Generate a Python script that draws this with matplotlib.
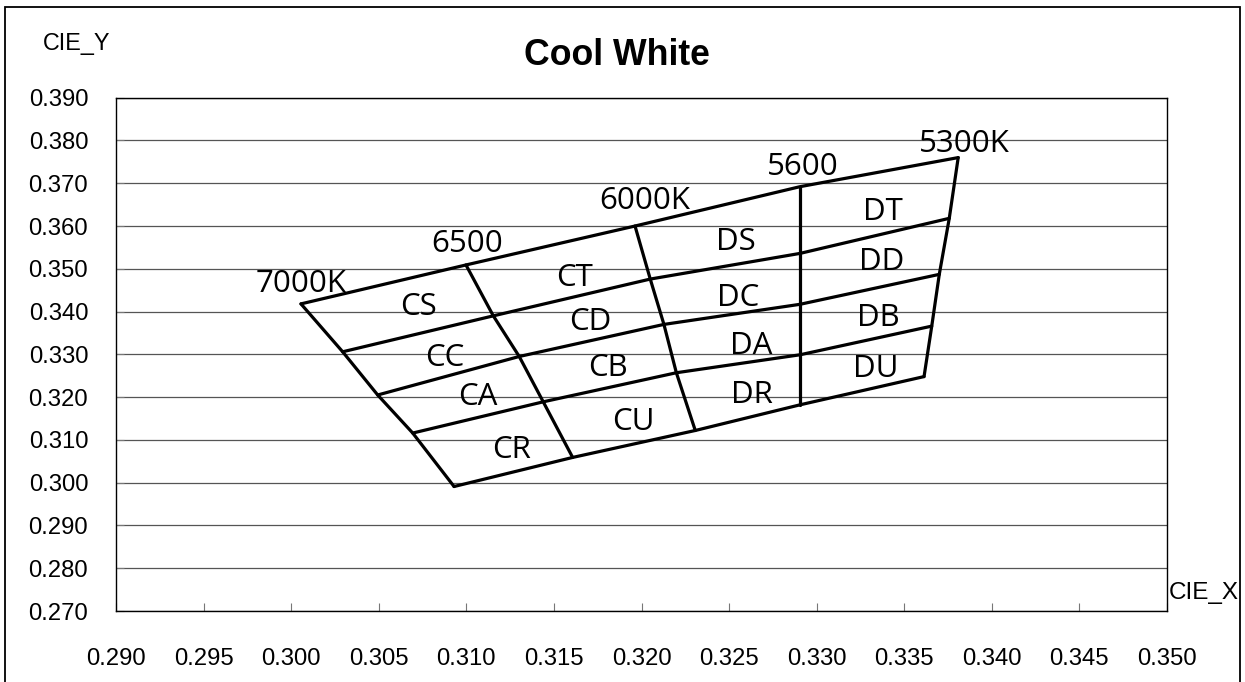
import numpy as np
import matplotlib.pyplot as plt
from matplotlib.patches import Rectangle

# corner points of the bins, one list per CCT line, from the top row down
cct_names = ['7000K', '6500', '6000K', '5600', '5300K']
cct_x = [
    [0.30056, 0.30294, 0.30494, 0.30694, 0.30930],  # 7000K
    [0.30998, 0.31154, 0.31302, 0.31439, 0.31607],  # 6500
    [0.31963, 0.32050, 0.32128, 0.32199, 0.32307],  # 6000K
    [0.32905, 0.32905, 0.32905, 0.32905, 0.32905],  # 5600
    [0.33808, 0.33757, 0.33700, 0.33657, 0.33613],  # 5300K
]
cct_y = [
    [0.3418, 0.3306, 0.3205, 0.3116, 0.2991],
    [0.3509, 0.3390, 0.3295, 0.3189, 0.3059],
    [0.3600, 0.3476, 0.3370, 0.3257, 0.3122],
    [0.3692, 0.3536, 0.3417, 0.3299, 0.3182],
    [0.3760, 0.3618, 0.3487, 0.3366, 0.3248],
]

# where the CCT names sit
cct_label_x = [0.30056, 0.31004, 0.3202, 0.32922, 0.33841]
cct_label_y = [0.3472, 0.3565, 0.3667, 0.3746, 0.3799]

# bin names and their label positions
bins = ['CS', 'CC', 'CA', 'CR', 'CT', 'CD', 'CB', 'CU',
        'DS', 'DC', 'DA', 'DR', 'DT', 'DD', 'DB', 'DU']
bin_x = [0.30727, 0.30878, 0.31067, 0.31258, 0.31617, 0.31706, 0.31809, 0.31954,
         0.32537, 0.32551, 0.32625, 0.32631, 0.33376, 0.33370, 0.33350, 0.33339]
bin_y = [0.3418, 0.3299, 0.3209, 0.3085, 0.3487, 0.3384, 0.3276, 0.3150,
         0.3571, 0.3439, 0.3328, 0.3213, 0.3641, 0.3525, 0.3394, 0.3275]

x_ticks = [0.290, 0.295, 0.300, 0.305, 0.310, 0.315, 0.320,
           0.325, 0.330, 0.335, 0.340, 0.345, 0.350]
y_ticks = [0.270, 0.280, 0.290, 0.300, 0.310, 0.320, 0.330,
           0.340, 0.350, 0.360, 0.370, 0.380, 0.390]

W, H = 1245, 682
fig = plt.figure(figsize=(W / 100, H / 100), dpi=100)
ax = fig.add_axes([116 / W, (H - 611) / H, 1051 / W, (611 - 97.7) / H])

cx = np.array(cct_x)
cy = np.array(cct_y)
lw = 2.3
# CCT lines (columns)
for i in range(len(cct_names)):
    ax.plot(cx[i], cy[i], color='black', lw=lw, solid_capstyle='round', zorder=3)
# row lines across all columns
for j in range(cx.shape[1]):
    ax.plot(cx[:, j], cy[:, j], color='black', lw=lw, solid_capstyle='round', zorder=3)

lab_font = ['Open Sans', 'DejaVu Sans']
names = cct_names + bins
xs = cct_label_x + bin_x
ys = cct_label_y + bin_y
for name, x, y in zip(names, xs, ys):
    ax.annotate(name, (x, y), xytext=(0, -2.5), textcoords='offset points',
                ha='center', va='center', fontsize=22.5, family=lab_font, zorder=4)

ax.set_xlim(0.290, 0.350)
ax.set_ylim(0.270, 0.390)
ax.set_xticks(x_ticks)
ax.set_yticks(y_ticks)
ax.set_xticklabels(['%.3f' % v for v in x_ticks])
ax.set_yticklabels(['%.3f' % v for v in y_ticks])
ax.tick_params(axis='both', direction='in', length=6, width=0.8, color='#777777',
               labelsize=17.2)
ax.tick_params(axis='x', pad=26.5)
ax.tick_params(axis='y', pad=20)
for lab in ax.get_xticklabels() + ax.get_yticklabels():
    lab.set_family('Liberation Sans')

ax.yaxis.grid(True, color='#555555', lw=0.9)
ax.set_axisbelow(True)
for s in ax.spines.values():
    s.set_color('black')
    s.set_linewidth(1.0)

fig.text(617 / W, 1 - 65 / H, 'Cool White', ha='center', va='baseline',
         fontsize=25.7, fontweight='bold', family='Liberation Sans')
fig.text(43 / W, 1 - 50 / H, 'CIE_Y', ha='left', va='baseline',
         fontsize=16.8, family='Liberation Sans')
fig.text(1169 / W, 1 - 599 / H, 'CIE_X', ha='left', va='baseline',
         fontsize=17.5, family='Liberation Sans')

# outer frame of the chart
fig.patches.append(Rectangle((4.7 / W, -0.02), (1240 - 4.7) / W, 1 - 7.3 / H + 0.02,
                             transform=fig.transFigure, fill=False,
                             ec='black', lw=1.3))

fig.savefig('out.png', dpi=100)
